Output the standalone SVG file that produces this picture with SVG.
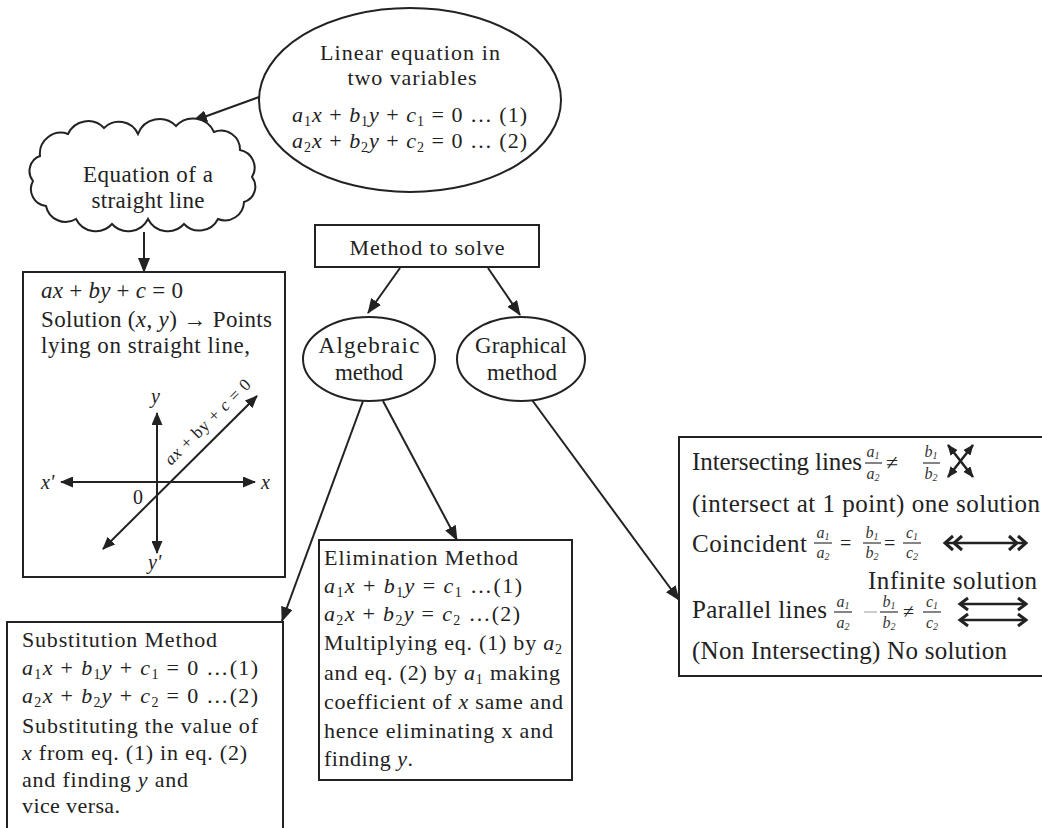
<svg xmlns="http://www.w3.org/2000/svg" width="1042" height="828" viewBox="0 0 1042 828" font-family="'Liberation Serif', 'Times New Roman', Times, serif">
<style>
text{font-family:'Liberation Serif','Times New Roman',Times,serif;}
.t{fill:#222;}
.i{font-style:italic;}
.box{fill:#fff;stroke:#222;stroke-width:2;}
.con{stroke:#222;stroke-width:2;fill:none;marker-end:url(#ah);}
.ax{stroke:#222;stroke-width:2;fill:none;marker-start:url(#ah2);marker-end:url(#ah2);}
.fr{fill:#333;font-size:16px;font-style:italic;}
.bar{stroke:#333;stroke-width:1.2;}
.chev{stroke:#222;stroke-width:3;fill:none;stroke-linejoin:miter;}
</style>
<defs>
<marker id="ah" markerWidth="15" markerHeight="12" refX="14" refY="6" orient="auto-start-reverse" markerUnits="userSpaceOnUse"><path d="M0,0 L15,6 L0,12 z" fill="#222"/></marker>
<marker id="ah2" markerWidth="13" markerHeight="11" refX="12" refY="5.5" orient="auto-start-reverse" markerUnits="userSpaceOnUse"><path d="M0,0 L13,5.5 L0,11 z" fill="#222"/></marker>
<marker id="sh" markerWidth="11" markerHeight="9" refX="10" refY="4.5" orient="auto-start-reverse" markerUnits="userSpaceOnUse"><path d="M0,0 L11,4.5 L0,9 z" fill="#222"/></marker>
</defs>
<rect width="1042" height="828" fill="#fff"/>

<g id="connectors">
<line class="con" x1="259" y1="97" x2="193" y2="121"/>
<line class="con" x1="144" y1="232" x2="144" y2="272"/>
<line class="con" x1="400" y1="268" x2="368" y2="313"/>
<line class="con" x1="488" y1="268" x2="520" y2="315"/>
<line class="con" x1="363" y1="401" x2="282" y2="621"/>
<line class="con" x1="383" y1="401" x2="457" y2="540"/>
<line class="con" x1="532" y1="400" x2="679" y2="600"/>
</g>

<g id="linear-eq">
<ellipse cx="410" cy="100" rx="151" ry="92" fill="#fff" stroke="#222" stroke-width="2"/>
<text class="t" x="410" y="60" font-size="22" text-anchor="middle" textLength="180">Linear  equation in</text>
<text class="t" x="412" y="85" font-size="22" text-anchor="middle" textLength="129">two variables</text>
<text class="t" x="292" y="122" font-size="22" textLength="235"><tspan class="i">a</tspan><tspan font-size="14" dy="4">1</tspan><tspan class="i" dy="-4">x</tspan> + <tspan class="i">b</tspan><tspan font-size="14" dy="4">1</tspan><tspan class="i" dy="-4">y</tspan> + <tspan class="i">c</tspan><tspan font-size="14" dy="4">1</tspan><tspan dy="-4"> = 0  … (1)</tspan></text>
<text class="t" x="292" y="148" font-size="22" textLength="235"><tspan class="i">a</tspan><tspan font-size="14" dy="4">2</tspan><tspan class="i" dy="-4">x</tspan> + <tspan class="i">b</tspan><tspan font-size="14" dy="4">2</tspan><tspan class="i" dy="-4">y</tspan> + <tspan class="i">c</tspan><tspan font-size="14" dy="4">2</tspan><tspan dy="-4"> = 0  … (2)</tspan></text>
</g>

<g id="straight-line-cloud">
<path d="M40,156 A21,21 0 0 1 68,134 A22,22 0 0 1 104,128 A21,21 0 0 1 138,134 A23,23 0 0 1 176,126 A23,23 0 0 1 214,132 A19,19 0 0 1 240,150 A18,18 0 0 1 252,177 A16,16 0 0 1 244,202 A19,19 0 0 1 218,219 A21,21 0 0 1 184,224 A22,22 0 0 1 148,219 A22,22 0 0 1 112,224 A22,22 0 0 1 76,219 A20,20 0 0 1 46,206 A17,17 0 0 1 33,181 A16,16 0 0 1 40,156 Z" fill="#fff" stroke="#222" stroke-width="2"/>
<text class="t" x="148" y="182" font-size="23" text-anchor="middle" textLength="130">Equation of a</text>
<text class="t" x="148" y="208" font-size="23" text-anchor="middle" textLength="113">straight line</text>
</g>

<g id="line-box">
<rect class="box" x="23" y="272" width="262" height="305"/>
<text class="t" x="41" y="298" font-size="23" textLength="142"><tspan class="i">ax</tspan> + <tspan class="i">by</tspan> + <tspan class="i">c</tspan> = 0</text>
<text class="t" x="41" y="327" font-size="23" textLength="231">Solution (<tspan class="i">x</tspan>, <tspan class="i">y</tspan>) → Points</text>
<text class="t" x="41" y="353" font-size="23" textLength="209">lying  on straight line,</text>
<line class="ax" x1="157" y1="413" x2="157" y2="553"/>
<line class="ax" x1="61" y1="482" x2="255" y2="482"/>
<line class="ax" x1="103" y1="549" x2="257" y2="396"/>
<text class="t i" x="151" y="403" font-size="20">y</text>
<text class="t i" x="41" y="489" font-size="20">x'</text>
<text class="t i" x="261" y="489" font-size="20">x</text>
<text class="t" x="133" y="504" font-size="20">0</text>
<text class="t i" x="148" y="569" font-size="20">y'</text>
<text class="t" transform="translate(171,466) rotate(-44.8)" font-size="17" textLength="114"><tspan class="i">ax</tspan> + by + <tspan class="i">c</tspan> = 0</text>
</g>

<g id="method-to-solve">
<rect class="box" x="315" y="225" width="224" height="42"/>
<text class="t" x="427" y="255" font-size="22" text-anchor="middle" textLength="155">Method to solve</text>
</g>

<g id="algebraic">
<ellipse cx="369" cy="359" rx="66" ry="42" fill="#fff" stroke="#222" stroke-width="2"/>
<text class="t" x="369" y="353" font-size="23" text-anchor="middle" textLength="101">Algebraic</text>
<text class="t" x="369" y="380" font-size="23" text-anchor="middle" textLength="68">method</text>
</g>

<g id="graphical">
<ellipse cx="521" cy="359" rx="64" ry="42" fill="#fff" stroke="#222" stroke-width="2"/>
<text class="t" x="521" y="353" font-size="23" text-anchor="middle" textLength="92">Graphical</text>
<text class="t" x="522" y="380" font-size="23" text-anchor="middle" textLength="70">method</text>
</g>

<g id="elimination">
<rect class="box" x="319" y="540" width="253" height="240"/>
<text class="t" x="324" y="565" font-size="22" textLength="194">Elimination Method</text>
<text class="t" x="324" y="593" font-size="22" textLength="198"><tspan class="i">a</tspan><tspan font-size="14" dy="4">1</tspan><tspan class="i" dy="-4">x</tspan> + <tspan class="i">b</tspan><tspan font-size="14" dy="4">1</tspan><tspan class="i" dy="-4">y</tspan> = <tspan class="i">c</tspan><tspan font-size="14" dy="4">1</tspan><tspan dy="-4">   …(1)</tspan></text>
<text class="t" x="324" y="621" font-size="22" textLength="196"><tspan class="i">a</tspan><tspan font-size="14" dy="4">2</tspan><tspan class="i" dy="-4">x</tspan> + <tspan class="i">b</tspan><tspan font-size="14" dy="4">2</tspan><tspan class="i" dy="-4">y</tspan> = <tspan class="i">c</tspan><tspan font-size="14" dy="4">2</tspan><tspan dy="-4">   …(2)</tspan></text>
<text class="t" x="324" y="650" font-size="22" textLength="238">Multiplying eq. (1) by <tspan class="i">a</tspan><tspan font-size="14" dy="4">2</tspan></text>
<text class="t" x="324" y="680" font-size="22" textLength="236">and eq. (2) by <tspan class="i">a</tspan><tspan font-size="14" dy="4">1</tspan><tspan dy="-4"> making</tspan></text>
<text class="t" x="324" y="709" font-size="22" textLength="239">coefficient of <tspan class="i">x</tspan> same and</text>
<text class="t" x="324" y="738" font-size="22" textLength="229">hence eliminating x and</text>
<text class="t" x="324" y="766" font-size="22" textLength="89">finding <tspan class="i">y</tspan>.</text>
</g>

<g id="substitution">
<rect class="box" x="7" y="622" width="276" height="230"/>
<text class="t" x="22" y="647" font-size="22" textLength="195">Substitution Method</text>
<text class="t" x="22" y="675" font-size="22" textLength="236"><tspan class="i">a</tspan><tspan font-size="14" dy="4">1</tspan><tspan class="i" dy="-4">x</tspan> + <tspan class="i">b</tspan><tspan font-size="14" dy="4">1</tspan><tspan class="i" dy="-4">y</tspan> + <tspan class="i">c</tspan><tspan font-size="14" dy="4">1</tspan><tspan dy="-4"> = 0   …(1)</tspan></text>
<text class="t" x="22" y="703" font-size="22" textLength="236"><tspan class="i">a</tspan><tspan font-size="14" dy="4">2</tspan><tspan class="i" dy="-4">x</tspan> + <tspan class="i">b</tspan><tspan font-size="14" dy="4">2</tspan><tspan class="i" dy="-4">y</tspan> + <tspan class="i">c</tspan><tspan font-size="14" dy="4">2</tspan><tspan dy="-4"> = 0   …(2)</tspan></text>
<text class="t" x="22" y="733" font-size="22" textLength="236">Substituting the value of</text>
<text class="t" x="22" y="760" font-size="22" textLength="225"><tspan class="i">x</tspan> from eq. (1) in eq. (2)</text>
<text class="t" x="22" y="787" font-size="22" textLength="166">and finding <tspan class="i">y</tspan> and</text>
<text class="t" x="22" y="813" font-size="22" textLength="98">vice versa.</text>
</g>

<g id="graphical-cases">
<rect class="box" x="679" y="437" width="380" height="239"/>
<text class="t" x="692" y="470" font-size="25" textLength="170">Intersecting lines</text>
<text class="fr" x="873" y="457" text-anchor="middle">a<tspan font-size="10" dy="1.5">1</tspan></text>
<line class="bar" x1="865" y1="463" x2="882" y2="463"/>
<text class="fr" x="873" y="479" text-anchor="middle">a<tspan font-size="10" dy="1.5">2</tspan></text>
<text class="t" x="886" y="470" font-size="22">≠</text>
<text class="fr" x="931" y="457" text-anchor="middle">b<tspan font-size="10" dy="1.5">1</tspan></text>
<line class="bar" x1="923" y1="463" x2="940" y2="463"/>
<text class="fr" x="931" y="479" text-anchor="middle">b<tspan font-size="10" dy="1.5">2</tspan></text>
<line stroke="#222" stroke-width="2.5" x1="948" y1="477" x2="973" y2="445" marker-start="url(#sh)" marker-end="url(#sh)"/>
<line stroke="#222" stroke-width="2.5" x1="948" y1="445" x2="973" y2="477" marker-start="url(#sh)" marker-end="url(#sh)"/>
<text class="t" x="692" y="512" font-size="25" textLength="348">(intersect at 1 point) one solution</text>

<text class="t" x="692" y="552" font-size="25" textLength="115">Coincident</text>
<text class="fr" x="823" y="538" text-anchor="middle">a<tspan font-size="10" dy="1.5">1</tspan></text>
<line class="bar" x1="814" y1="543" x2="832" y2="543"/>
<text class="fr" x="823" y="558" text-anchor="middle">a<tspan font-size="10" dy="1.5">2</tspan></text>
<text class="t" x="840" y="550" font-size="20" fill="#555">=</text>
<text class="fr" x="872" y="538" text-anchor="middle">b<tspan font-size="10" dy="1.5">1</tspan></text>
<line class="bar" x1="863" y1="543" x2="881" y2="543"/>
<text class="fr" x="872" y="558" text-anchor="middle">b<tspan font-size="10" dy="1.5">2</tspan></text>
<text class="t" x="884" y="550" font-size="20" fill="#555">=</text>
<text class="fr" x="912" y="538" text-anchor="middle">c<tspan font-size="10" dy="1.5">1</tspan></text>
<line class="bar" x1="903" y1="543" x2="921" y2="543"/>
<text class="fr" x="912" y="558" text-anchor="middle">c<tspan font-size="10" dy="1.5">2</tspan></text>
<line stroke="#222" stroke-width="2.5" x1="945" y1="543" x2="1026" y2="543"/>
<polyline class="chev" points="953,536 945,543 953,550"/>
<polyline class="chev" points="962,536 954,543 962,550"/>
<polyline class="chev" points="1009,536 1017,543 1009,550"/>
<polyline class="chev" points="1018,536 1026,543 1018,550"/>
<text class="t" x="868" y="589" font-size="25" textLength="169">Infinite solution</text>

<text class="t" x="692" y="618" font-size="25" textLength="135">Parallel lines</text>
<text class="fr" x="843" y="607" text-anchor="middle">a<tspan font-size="10" dy="1.5">1</tspan></text>
<line class="bar" x1="834" y1="612" x2="852" y2="612"/>
<text class="fr" x="843" y="628" text-anchor="middle">a<tspan font-size="10" dy="1.5">2</tspan></text>
<line stroke="#bbb" stroke-width="1.5" x1="864" y1="612" x2="877" y2="612"/>
<text class="fr" x="889" y="607" text-anchor="middle">b<tspan font-size="10" dy="1.5">1</tspan></text>
<line class="bar" x1="880" y1="612" x2="898" y2="612"/>
<text class="fr" x="889" y="628" text-anchor="middle">b<tspan font-size="10" dy="1.5">2</tspan></text>
<text class="t" x="903" y="618" font-size="20">≠</text>
<text class="fr" x="932" y="607" text-anchor="middle">c<tspan font-size="10" dy="1.5">1</tspan></text>
<line class="bar" x1="923" y1="612" x2="941" y2="612"/>
<text class="fr" x="932" y="628" text-anchor="middle">c<tspan font-size="10" dy="1.5">2</tspan></text>
<line stroke="#222" stroke-width="2.5" x1="960" y1="604" x2="1026" y2="604"/>
<line stroke="#222" stroke-width="2.5" x1="960" y1="620" x2="1026" y2="620"/>
<polyline class="chev" points="968,598 960,604 968,610"/>
<polyline class="chev" points="1018,598 1026,604 1018,610"/>
<polyline class="chev" points="968,614 960,620 968,626"/>
<polyline class="chev" points="1018,614 1026,620 1018,626"/>
<text class="t" x="692" y="659" font-size="25" textLength="315">(Non Intersecting) No solution</text>
</g>
</svg>
